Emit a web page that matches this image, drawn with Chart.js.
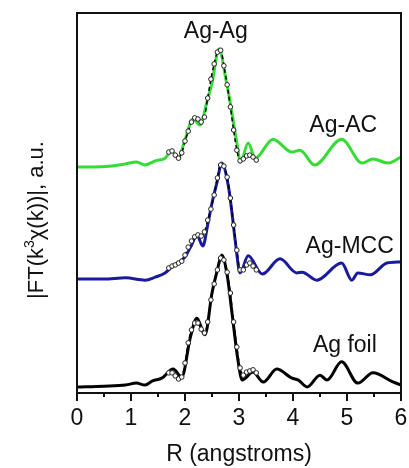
<!DOCTYPE html>
<html>
<head>
<meta charset="utf-8">
<script src="https://cdn.jsdelivr.net/npm/chart.js@4.4.0/dist/chart.umd.min.js"></script>
<style>
html, body { margin: 0; padding: 0; background: #fff; }
</style>
</head>
<body>
<canvas id="myChart" width="409" height="468"></canvas>
<script>
// measured curves, R in angstroms, |FT| in arbitrary units (offset per sample)
var rAC = [0, 0.3, 0.6, 0.9, 1.1, 1.26, 1.45, 1.63, 1.76, 1.87, 2.0, 2.15, 2.28, 2.4, 2.5, 2.63, 2.76, 2.87, 2.96, 3.03, 3.17, 3.3, 3.63, 3.98, 4.13, 4.4, 4.9, 5.28, 5.48, 5.76, 6.0];
var acVal = [5.95, 5.95, 5.97, 6.03, 6.08, 6.00, 6.11, 6.18, 6.37, 6.18, 6.66, 7.21, 7.05, 7.63, 8.16, 9.05, 8.24, 7.37, 6.58, 6.08, 6.58, 6.18, 6.68, 6.34, 6.39, 6.00, 6.68, 6.05, 6.16, 6.05, 6.21];

var rMCC = [0, 0.5, 0.9, 1.26, 1.45, 1.63, 1.76, 1.9, 2.0, 2.12, 2.22, 2.33, 2.42, 2.5, 2.59, 2.68, 2.8, 2.87, 2.94, 3.02, 3.17, 3.43, 3.76, 4.07, 4.17, 4.44, 4.9, 5.09, 5.2, 5.43, 5.74, 6.0];
var mccVal = [3.0, 3.0, 3.03, 2.97, 3.05, 3.16, 3.32, 3.45, 3.58, 3.89, 4.16, 3.87, 4.42, 5.0, 5.53, 6.05, 5.47, 4.74, 3.89, 3.16, 3.61, 3.13, 3.53, 3.16, 3.18, 2.97, 3.42, 2.97, 3.16, 3.11, 3.42, 3.45];

var rFoil = [0, 0.5, 0.9, 1.1, 1.26, 1.4, 1.57, 1.78, 1.94, 2.1, 2.22, 2.37, 2.5, 2.6, 2.68, 2.78, 2.87, 2.98, 3.06, 3.26, 3.45, 3.7, 3.98, 4.1, 4.26, 4.5, 4.63, 4.9, 5.2, 5.48, 5.85, 6.0];
var foilVal = [0.16, 0.18, 0.21, 0.26, 0.21, 0.32, 0.39, 0.63, 0.42, 1.47, 1.97, 1.53, 2.63, 3.24, 3.63, 3.11, 2.11, 0.87, 0.34, 0.55, 0.29, 0.63, 0.39, 0.34, 0.16, 0.47, 0.34, 0.82, 0.26, 0.53, 0.29, 0.21];

// fits (dashed with open circles)
var fitR = [1.70, 1.76, 1.82, 1.88, 1.94, 2.00, 2.06, 2.12, 2.18, 2.24, 2.30, 2.36, 2.42, 2.48, 2.54, 2.60, 2.66, 2.72, 2.78, 2.84, 2.90, 2.96, 3.02, 3.08, 3.14, 3.20, 3.26, 3.32];
var fitAC = [6.34, 6.37, 6.26, 6.18, 6.32, 6.63, 6.89, 7.13, 7.24, 7.21, 7.13, 7.26, 7.76, 8.26, 8.66, 8.97, 9.02, 8.61, 8.11, 7.53, 6.92, 6.39, 6.11, 6.16, 6.24, 6.26, 6.21, 6.13];
var fitMCC = [3.29, 3.34, 3.37, 3.42, 3.47, 3.63, 3.84, 4.0, 4.11, 4.16, 4.13, 4.24, 4.55, 4.84, 5.21, 5.66, 6.0, 5.97, 5.68, 5.13, 4.42, 3.76, 3.24, 3.24, 3.37, 3.42, 3.34, 3.24];
var fitFoil = [0.53, 0.53, 0.45, 0.37, 0.42, 0.79, 1.32, 1.66, 1.84, 1.84, 1.68, 1.58, 1.87, 2.45, 2.87, 3.24, 3.55, 3.50, 3.18, 2.63, 1.87, 1.21, 0.66, 0.47, 0.55, 0.58, 0.61, 0.53];

var xTicks = [0, 1, 2, 3, 4, 5, 6];

function pts(xs, ys) {
    return xs.map(function(x, i) { return { x: x, y: ys[i] }; });
}

function dataSet(xs, ys, color) {
    return {
        data: pts(xs, ys),
        borderColor: color,
        borderWidth: 3,
        pointRadius: 0,
        cubicInterpolationMode: 'monotone',
        fill: false,
        order: 2
    };
}

function fitSet(ys) {
    return {
        data: pts(fitR, ys),
        borderColor: '#000',
        borderWidth: 1.5,
        borderDash: [4, 3],
        pointRadius: 2.3,
        pointBackgroundColor: '#fff',
        pointBorderColor: '#222',
        pointBorderWidth: 1,
        cubicInterpolationMode: 'monotone',
        fill: false,
        order: 1
    };
}

var FONT = '"Liberation Sans", Arial, sans-serif';

var extras = {
    id: 'extras',
    afterDraw: function(chart) {
        var ctx = chart.ctx, a = chart.chartArea;
        var sx = chart.scales.x, sy = chart.scales.y;
        ctx.save();
        // box around the plot
        ctx.fillStyle = '#111';
        ctx.fillRect(a.left - 1, a.top - 1, a.right - a.left + 2, 2);
        ctx.fillRect(a.left - 1, a.bottom - 1, a.right - a.left + 2, 2);
        ctx.fillRect(a.left - 1, a.top - 1, 2, a.bottom - a.top + 2);
        ctx.fillRect(a.right - 1, a.top - 1, 2, a.bottom - a.top + 2);
        // x ticks, majors and halves
        for (var r = 0; r <= 6.001; r += 0.5) {
            var px = Math.round(sx.getPixelForValue(r));
            var len = (Math.abs(r - Math.round(r)) < 0.01) ? 8 : 4;
            ctx.fillRect(px - 1, a.bottom, 2, len);
        }

        // peak labels
        var labels = [
            { t: 'Ag-Ag', r: 2.57, v: 9.34 },
            { t: 'Ag-AC', r: 4.93, v: 6.87 },
            { t: 'Ag-MCC', r: 5.05, v: 3.68 },
            { t: 'Ag foil', r: 4.96, v: 1.08 }
        ];
        ctx.font = '23px ' + FONT;
        ctx.textAlign = 'center';
        ctx.textBaseline = 'alphabetic';
        labels.forEach(function(l) {
            ctx.fillText(l.t, sx.getPixelForValue(l.r), sy.getPixelForValue(l.v));
        });

        // y title with superscript
        var big = '22px ' + FONT, small = '14px ' + FONT;
        var p1 = '|FT(k', p2 = '3', p3 = '\u03c7(k))|, a.u.';
        ctx.font = big; var w1 = ctx.measureText(p1).width, w3 = ctx.measureText(p3).width;
        ctx.font = small; var w2 = ctx.measureText(p2).width;
        var total = w1 + w2 + w3;
        ctx.translate(43, (a.top + a.bottom) / 2 + 17);
        ctx.rotate(-Math.PI / 2);
        ctx.textAlign = 'left';
        var x0 = -total / 2;
        ctx.font = big; ctx.fillText(p1, x0, 0);
        ctx.font = small; ctx.fillText(p2, x0 + w1, -9);
        ctx.font = big; ctx.fillText(p3, x0 + w1 + w2, 0);
        ctx.restore();
    }
};

var ctx = document.getElementById('myChart').getContext('2d');
var myChart = new Chart(ctx, {
    type: 'line',
    data: {
        datasets: [
            fitSet(fitAC),
            fitSet(fitMCC),
            fitSet(fitFoil),
            dataSet(rAC, acVal, '#36dc36'),
            dataSet(rMCC, mccVal, '#1a1a9e'),
            dataSet(rFoil, foilVal, '#000')
        ]
    },
    options: {
        responsive: false,
        animation: false,
        layout: { padding: { top: 13, right: 8, left: 0, bottom: 0 } },
        plugins: { legend: { display: false }, tooltip: { enabled: false } },
        scales: {
            x: {
                type: 'linear',
                min: 0,
                max: 6,
                afterBuildTicks: function(s) {
                    s.ticks = xTicks.map(function(v) { return { value: v }; });
                },
                afterFit: function(s) {
                    s.height = 75;
                    s.paddingLeft = 0;
                    s.paddingRight = 0;
                },
                grid: { display: false, drawTicks: false },
                border: { display: false },
                ticks: { padding: 12, color: '#111', font: { size: 23, family: FONT } },
                title: {
                    display: true,
                    text: 'R (angstroms)',
                    color: '#111',
                    font: { size: 23, family: FONT },
                    padding: { top: 0, bottom: 0 }
                }
            },
            y: {
                min: 0,
                max: 10,
                afterFit: function(s) { s.width = 77; },
                grid: { display: false },
                border: { display: false },
                ticks: { display: false }
            }
        }
    },
    plugins: [extras]
});
</script>
</body>
</html>
